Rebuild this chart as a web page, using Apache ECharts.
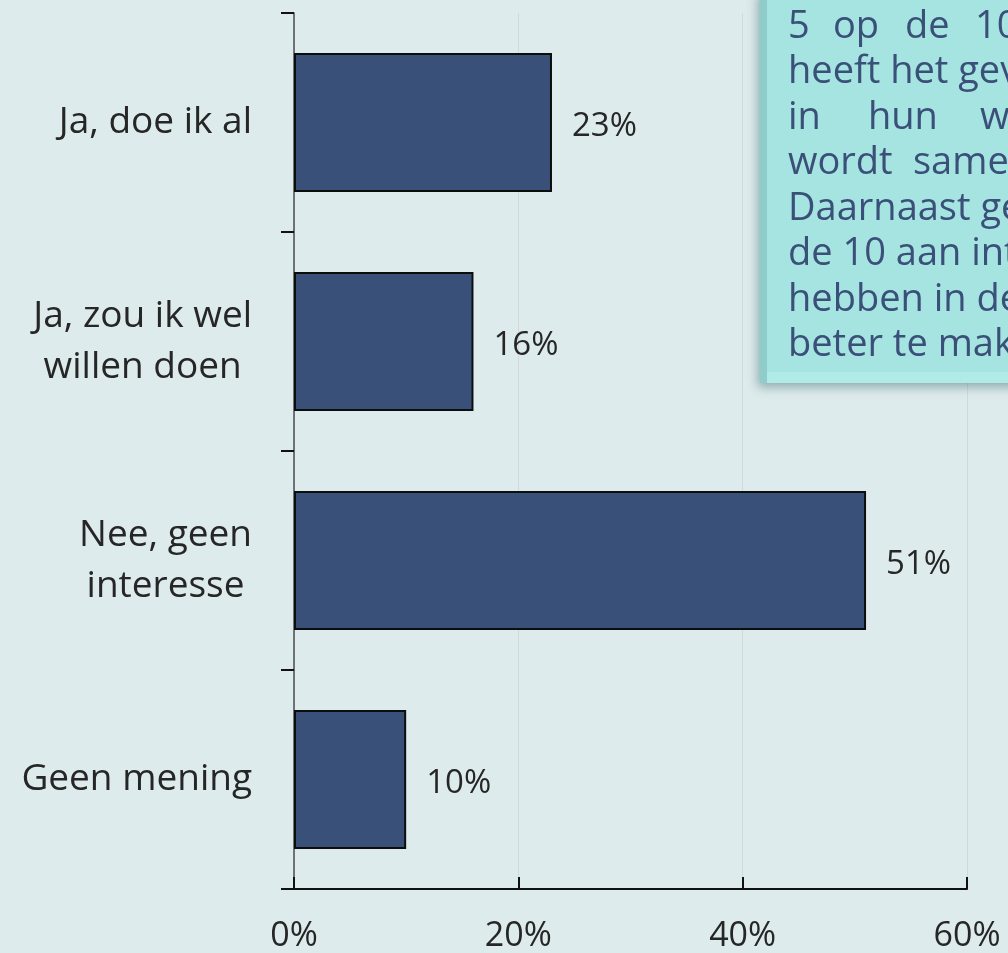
<!DOCTYPE html>
<html>
<head>
<meta charset="utf-8">
<title>Interesse</title>
<script src="https://cdn.jsdelivr.net/npm/echarts@6/dist/echarts.min.js"></script>
<style>
  html, body { margin: 0; padding: 0; background: #deebec; }
  #chart { width: 1008px; height: 953px; }
</style>
</head>
<body>
<div id="chart"></div>
<script>
(function () {
  // categories, top to bottom
  var categories = [
    "Ja, doe ik al",
    "Ja, zou ik wel\nwillen doen",
    "Nee, geen\ninteresse",
    "Geen mening"
  ];
  // share of respondents (%)
  var shares = [23, 16, 51, 10];
  // x axis ticks
  var xTicks = [0, 20, 40, 60];

  // text box on the right (cut off by the edge of the picture)
  var noteLines = [
    ["5", "op", "de", "10"],
    ["heeft het gevoel"],
    ["in", "hun", "wijk"],
    ["wordt", "samengewerkt"],
    ["Daarnaast geeft"],
    ["de 10 aan interesse"],
    ["hebben in de"],
    ["beter te maken"]
  ];

  var FONT = "'Open Sans', 'Liberation Sans', sans-serif";
  var TEXT = "#262626";
  var NOTE_TEXT = "#3a5078";

  // word offsets for the justified lines
  var wordX = {
    0: [788, 833, 905, 975],
    2: [788, 868, 980],
    3: [788, 913]
  };

  function noteGraphic() {
    var els = [
      {
        type: "rect",
        z: 100,
        shape: { x: 760, y: -10, width: 270, height: 393 },
        style: {
          fill: "#8ecdca",
          shadowBlur: 10,
          shadowColor: "rgba(40, 90, 95, 0.45)",
          shadowOffsetX: -2,
          shadowOffsetY: 4
        }
      },
      {
        type: "rect",
        z: 101,
        shape: { x: 767, y: -10, width: 260, height: 393 },
        style: { fill: "#b0ebe8" }
      },
      {
        type: "rect",
        z: 102,
        shape: { x: 767, y: -10, width: 260, height: 382 },
        style: { fill: "#a5e4e1" }
      }
    ];
    noteLines.forEach(function (words, i) {
      var y = 27 + 45.5 * i;
      var xs = wordX[i];
      words.forEach(function (w, j) {
        els.push({
          type: "text",
          z: 103,
          x: xs ? xs[j] : 788,
          y: y,
          style: {
            text: w,
            fill: NOTE_TEXT,
            font: "38px " + FONT,
            textVerticalAlign: "middle",
            textAlign: "left"
          }
        });
      });
    });
    return els;
  }

  var chart = echarts.init(document.getElementById("chart"), null, { renderer: "canvas" });

  var option = {
    backgroundColor: "#deebec",
    animation: false,
    grid: { left: 294, right: 41, top: 13, bottom: 64, containLabel: false },
    xAxis: {
      type: "value",
      min: xTicks[0],
      max: xTicks[xTicks.length - 1],
      interval: xTicks[1] - xTicks[0],
      axisLine: { show: true, lineStyle: { color: "#111", width: 2 } },
      axisTick: { show: true, inside: true, length: 12, lineStyle: { color: "#111", width: 2 } },
      splitLine: { show: true, lineStyle: { color: "#d3d9d9", width: 1 } },
      axisLabel: {
        margin: 30,
        fontSize: 34,
        fontFamily: FONT,
        color: TEXT,
        formatter: "{value}%"
      }
    },
    yAxis: {
      type: "category",
      inverse: true,
      data: categories,
      axisLine: { show: true, lineStyle: { color: "#4d4d4d", width: 1.5 } },
      axisTick: { show: true, length: 13, lineStyle: { color: "#111", width: 2 } },
      axisLabel: {
        margin: 42,
        formatter: function (v) {
          return v.split("\n").map(function (l) { return "{c|" + l + "}"; }).join("\n");
        },
        rich: {
          c: {
            align: "center",
            fontSize: 37,
            lineHeight: 51,
            fontFamily: FONT,
            color: TEXT
          }
        }
      }
    },
    series: [
      {
        type: "bar",
        data: shares,
        barWidth: 139,
        itemStyle: { color: "#395179", borderColor: "#0d0d0d", borderWidth: 2 },
        label: {
          show: true,
          position: "right",
          distance: 20,
          offset: [0, 4],
          formatter: "{c}%",
          fontSize: 33,
          fontFamily: FONT,
          color: TEXT
        }
      }
    ],
    graphic: noteGraphic()
  };

  chart.setOption(option);
})();
</script>
</body>
</html>
